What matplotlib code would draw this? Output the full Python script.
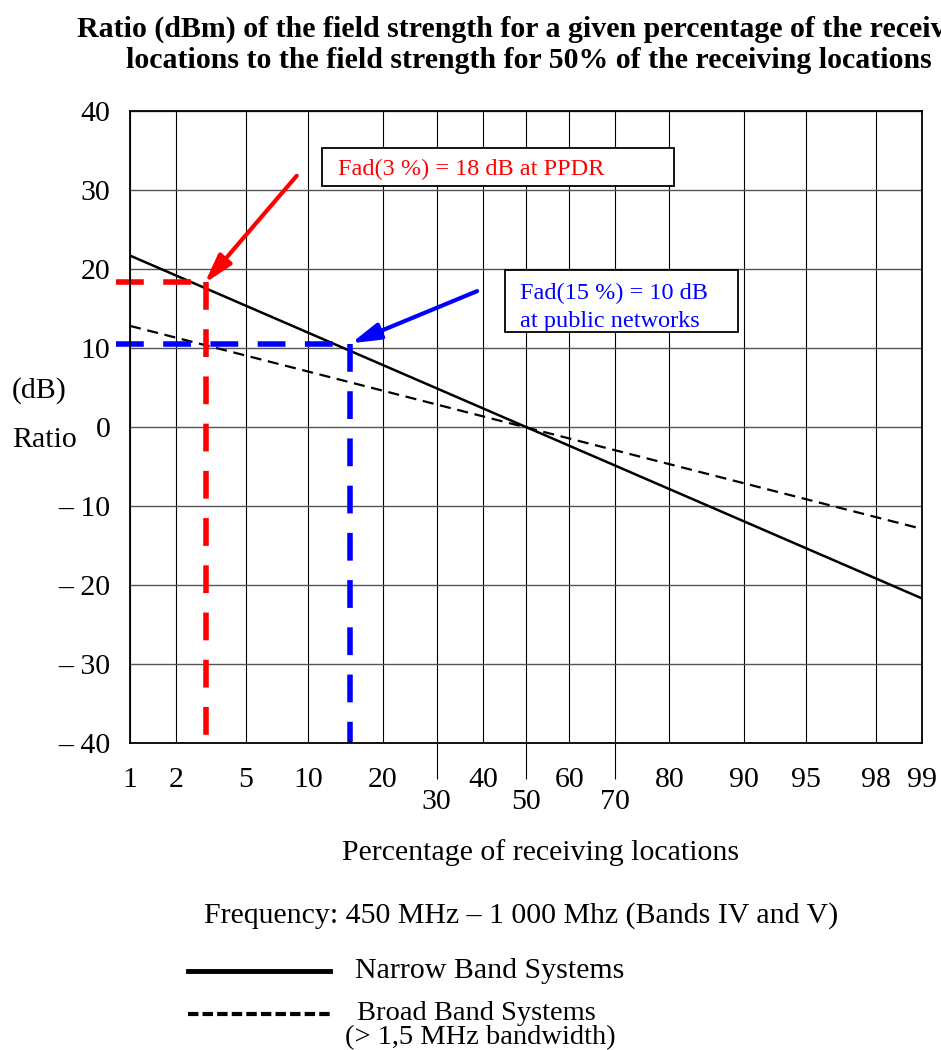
import numpy as np
import matplotlib
matplotlib.use("Agg")
import matplotlib.pyplot as plt
from matplotlib.lines import Line2D
from matplotlib.patches import Rectangle
from statistics import NormalDist

# percentage of receiving locations (probability axis)
x_ticks = [1, 2, 5, 10, 20, 40, 60, 80, 90, 95, 98, 99]
x_ticks_low = [30, 50, 70]
y_ticks = [40, 30, 20, 10, 0, -10, -20, -30, -40]
y_labels = ["40", "30", "20", "10", "0", "\u2013 10", "\u2013 20", "\u2013 30", "\u2013 40"]

# location correction ratio (dB) at the ends of the range
pct_ends = [1, 99]
narrow_db = [21.7, -21.7]
broad_db = [12.8, -12.9]

# read-off points
ppdr_pct, ppdr_db = 3, 18.3
public_pct, public_db = 15, 10.5

_nd = NormalDist()


def probit(p):
    p = np.clip(np.asarray(p, dtype=float), 1e-4, 100 - 1e-4)
    return np.vectorize(lambda v: _nd.inv_cdf(v / 100.0), otypes=[float])(p)


def inv_probit(z):
    z = np.asarray(z, dtype=float)
    return np.vectorize(lambda v: 100.0 * _nd.cdf(v), otypes=[float])(z)


plt.rcParams["font.family"] = ["Liberation Serif", "DejaVu Serif"]
FS = 21.5

W, H = 941, 1050
fig = plt.figure(figsize=(W / 100, H / 100), dpi=100)


def fx(px):
    return px / W


def fy(py):
    return 1 - py / H


ax = fig.add_axes([fx(130), fy(743), fx(922) - fx(130), fy(111) - fy(743)])
ax.set_xscale("function", functions=(probit, inv_probit))
ax.set_xlim(1, 99)
ax.set_ylim(-40, 40)

ax.set_xticks(x_ticks)
ax.set_xticklabels([str(v) for v in x_ticks])
ax.set_xticks(x_ticks_low, minor=True)
ax.set_xticklabels([str(v) for v in x_ticks_low], minor=True)
ax.tick_params(axis="x", which="major", length=0, pad=17, labelsize=FS)
ax.tick_params(axis="x", which="minor", length=26, width=0.8, direction="out",
               pad=7, labelsize=FS, color="black")
ax.set_yticks(y_ticks)
ax.set_yticklabels(y_labels)
ax.tick_params(axis="y", length=0, pad=14, labelsize=FS)

for v in x_ticks + x_ticks_low:
    ax.axvline(v, color="black", lw=0.8, zorder=1)
for v in y_ticks:
    ax.axhline(v, color="#555555", lw=1.0, zorder=1)
for s in ax.spines.values():
    s.set_linewidth(1.3)
    s.set_zorder(5)

# fading curves
ax.plot(pct_ends, narrow_db, color="black", lw=1.8, zorder=3)
ax.plot(pct_ends, broad_db, color="black", lw=1.6, ls=(0, (5, 3)), zorder=3)

arrow_style = "-|>,head_length=0.7,head_width=0.2"

# PPDR read-off
ax.plot([0.8, ppdr_pct], [ppdr_db, ppdr_db], color="red", lw=4,
        ls=(0, (5, 3.5)), clip_on=False, zorder=4)
ax.plot([ppdr_pct, ppdr_pct], [ppdr_db, -40.8], color="red", lw=4,
        ls=(0, (5, 3.5)), clip_on=False, zorder=4)
ax.annotate("", xy=(2.95, 18.2), xytext=(8.9, 31.8),
            arrowprops=dict(arrowstyle=arrow_style, color="red", lw=3,
                            mutation_scale=25, shrinkA=0, shrinkB=0))

# public networks read-off
ax.plot([0.8, public_pct], [public_db, public_db], color="blue", lw=4,
        ls=(0, (5, 3.5)), clip_on=False, zorder=4)
ax.plot([public_pct, public_pct], [public_db, -40], color="blue", lw=4,
        ls=(0, (5, 3.5)), clip_on=False, zorder=4)
ax.annotate("", xy=(15.2, 10.6), xytext=(38.7, 17.2),
            arrowprops=dict(arrowstyle=arrow_style, color="blue", lw=3,
                            mutation_scale=25, shrinkA=0, shrinkB=0))

# annotation boxes
fig.patches.append(Rectangle((fx(322), fy(186)), fx(674) - fx(322), fy(148) - fy(186),
                             transform=fig.transFigure, fill=True, facecolor="white",
                             edgecolor="black", lw=1.3, zorder=6))
fig.text(fx(338), fy(169), "Fad(3 %) = 18 dB at PPDR", color="red", fontsize=17.5,
         va="center", ha="left", zorder=7)
fig.patches.append(Rectangle((fx(505), fy(332)), fx(738) - fx(505), fy(270) - fy(332),
                             transform=fig.transFigure, fill=True, facecolor="white",
                             edgecolor="black", lw=1.3, zorder=6))
fig.text(fx(520), fy(293), "Fad(15 %) = 10 dB", color="blue", fontsize=17.5,
         va="center", ha="left", zorder=7)
fig.text(fx(520), fy(321), "at public networks", color="blue", fontsize=17.5,
         va="center", ha="left", zorder=7)

# titles and axis captions
fig.text(fx(531), fy(29), "Ratio (dBm) of the field strength for a given percentage of the receiving",
         fontsize=21.5, fontweight="bold", ha="center", va="center")
fig.text(fx(529), fy(61), "locations to the field strength for 50% of the receiving locations",
         fontsize=21.5, fontweight="bold", ha="center", va="center")
fig.text(fx(12), fy(391), "(dB)", fontsize=FS, ha="left", va="center")
fig.text(fx(12), fy(440), "Ratio", fontsize=FS, ha="left", va="center")
fig.text(fx(541), fy(853), "Percentage of receiving locations", fontsize=FS,
         ha="center", va="center")
fig.text(fx(521), fy(916), "Frequency: 450 MHz \u2013 1 000 Mhz (Bands IV and V)", fontsize=FS,
         ha="center", va="center")

# legend
fig.add_artist(Line2D([fx(188), fx(330)], [fy(971), fy(971)], color="black", lw=3.5))
fig.text(fx(355), fy(971), "Narrow Band Systems", fontsize=FS, ha="left", va="center")
fig.add_artist(Line2D([fx(188), fx(330)], [fy(1014), fy(1014)], color="black", lw=3,
                      ls=(0, (2.5, 1))))
fig.text(fx(357), fy(1013), "Broad Band Systems", fontsize=20.5, ha="left", va="center")
fig.text(fx(345), fy(1038), "(> 1,5 MHz bandwidth)", fontsize=20.5, ha="left", va="center")

fig.savefig("out.png", dpi=100)
